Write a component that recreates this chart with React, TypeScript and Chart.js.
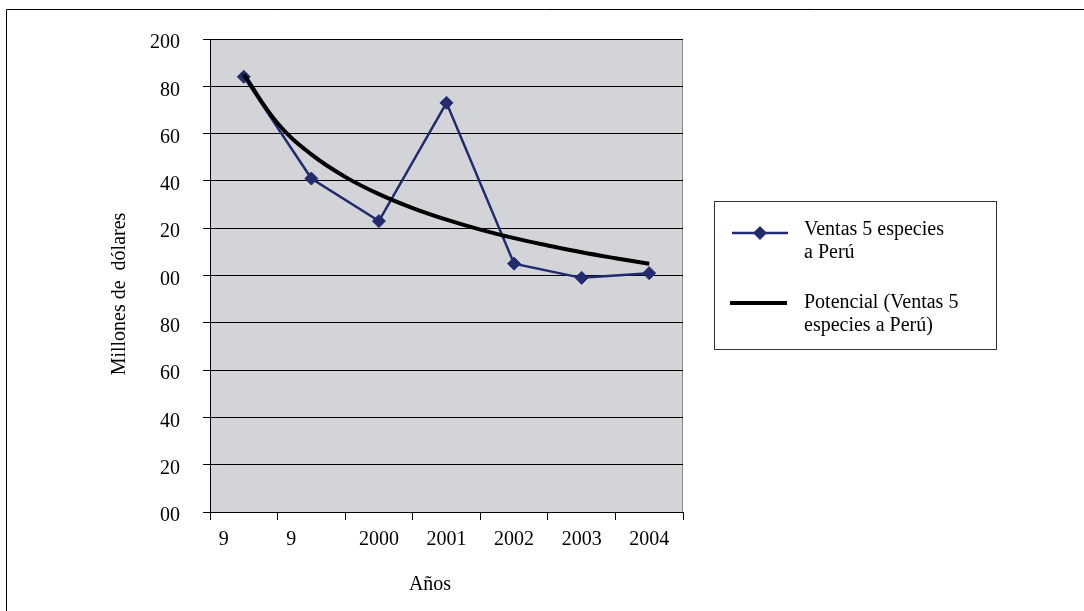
import React, { useEffect, useRef } from "react";
import { Chart, registerables } from "chart.js";

Chart.register(...registerables);

const categories = ["1998", "1999", "2000", "2001", "2002", "2003", "2004"];
const xTickLabels = ["9", "9", "2000", "2001", "2002", "2003", "2004"];
const ventas = [1.84, 1.41, 1.23, 1.73, 1.05, 0.99, 1.01];
// trend curve, every half year
const potencialYears = [1998, 1998.5, 1999, 1999.5, 2000, 2000.5, 2001, 2001.5, 2002, 2002.5, 2003, 2003.5, 2004];
const potencial = [1.85, 1.644, 1.512, 1.417, 1.344, 1.285, 1.236, 1.194, 1.158, 1.127, 1.098, 1.073, 1.05];
const yTickLabels = ["00", "20", "40", "60", "80", "00", "20", "40", "60", "80", "200"];
const yTitle = "Millones de  dólares";
const xTitle = "Años";
const legendVentas = ["Ventas 5 especies", "a Perú"];
const legendPotencial = ["Potencial (Ventas 5", "especies a Perú)"];

const FONT = '"Liberation Serif", "Times New Roman", serif';
const NAVY = "#232B6F";
const W = 1084;
const H = 611;

const decorPlugin = {
  id: "decor",
  beforeDraw(chart: any) {
    const { ctx, chartArea } = chart;
    const { left, top, right, bottom } = chartArea;
    ctx.save();
    ctx.fillStyle = "#ffffff";
    ctx.fillRect(0, 0, W, H);
    ctx.strokeStyle = "#000";
    ctx.lineWidth = 1;
    ctx.beginPath();
    ctx.moveTo(6.5, H);
    ctx.lineTo(6.5, 9.5);
    ctx.lineTo(W, 9.5);
    ctx.stroke();
    ctx.fillStyle = "#D3D4D7";
    ctx.fillRect(left, top, right - left, bottom - top);
    ctx.strokeStyle = "#8a8a8a";
    ctx.beginPath();
    ctx.moveTo(Math.round(right) - 0.5, top);
    ctx.lineTo(Math.round(right) - 0.5, bottom);
    ctx.stroke();
    ctx.restore();
  },
  afterDraw(chart: any) {
    const { ctx } = chart;
    ctx.save();
    ctx.fillStyle = "#000";
    ctx.font = `20px ${FONT}`;
    ctx.save();
    ctx.translate(120, 294);
    ctx.rotate(-Math.PI / 2);
    ctx.textAlign = "center";
    ctx.textBaseline = "middle";
    ctx.fillText(yTitle, 0, 0);
    ctx.restore();
    ctx.textAlign = "center";
    ctx.textBaseline = "middle";
    ctx.fillText(xTitle, 430, 585);

    ctx.strokeStyle = "#333";
    ctx.lineWidth = 1;
    ctx.strokeRect(714.5, 201.5, 282, 148);
    ctx.strokeStyle = NAVY;
    ctx.lineWidth = 2.5;
    ctx.beginPath();
    ctx.moveTo(732, 233);
    ctx.lineTo(788, 233);
    ctx.stroke();
    ctx.fillStyle = NAVY;
    ctx.beginPath();
    ctx.moveTo(760, 226);
    ctx.lineTo(767, 233);
    ctx.lineTo(760, 240);
    ctx.lineTo(753, 233);
    ctx.closePath();
    ctx.fill();
    ctx.strokeStyle = "#000";
    ctx.lineWidth = 4;
    ctx.beginPath();
    ctx.moveTo(730, 303);
    ctx.lineTo(787, 303);
    ctx.stroke();
    ctx.fillStyle = "#000";
    ctx.textAlign = "left";
    ctx.textBaseline = "alphabetic";
    ctx.fillText(legendVentas[0], 804, 235);
    ctx.fillText(legendVentas[1], 804, 258);
    ctx.fillText(legendPotencial[0], 804, 308);
    ctx.fillText(legendPotencial[1], 804, 331);
    ctx.restore();
  },
};

export default function App() {
  const canvasRef = useRef<HTMLCanvasElement | null>(null);

  useEffect(() => {
    const canvas = canvasRef.current;
    if (!canvas) return;
    const trendPoints = potencialYears.map((yr, i) => ({ x: yr, y: potencial[i] }));
    const chart = new Chart(canvas, {
      type: "line",
      data: {
        labels: categories,
        datasets: [
          {
            label: legendPotencial.join(" "),
            data: trendPoints,
            xAxisID: "xt",
            borderColor: "#000",
            borderWidth: 4,
            pointRadius: 0,
            tension: 0.4,
            fill: false,
            order: 0,
          },
          {
            label: legendVentas.join(" "),
            data: ventas,
            xAxisID: "x",
            borderColor: NAVY,
            backgroundColor: NAVY,
            borderWidth: 2.5,
            pointStyle: "rectRot",
            pointRadius: 6.5,
            pointBorderWidth: 1,
            pointBackgroundColor: NAVY,
            pointBorderColor: NAVY,
            tension: 0,
            fill: false,
            order: 1,
          },
        ],
      },
      options: {
        animation: false,
        responsive: false,
        devicePixelRatio: 1,
        layout: { padding: { left: 0, top: 39, right: 401, bottom: 0 } },
        plugins: {
          legend: { display: false },
          tooltip: { enabled: false },
          title: { display: false },
        },
        scales: {
          x: {
            type: "category",
            offset: true,
            afterFit: (s: any) => {
              s.height = 99;
            },
            grid: {
              display: true,
              drawOnChartArea: false,
              drawTicks: true,
              tickLength: 8,
              offset: true,
              color: "#000",
            },
            border: { display: true, color: "#000", width: 1 },
            ticks: {
              color: "#000",
              font: { family: FONT, size: 20 },
              padding: 8,
              maxRotation: 0,
              autoSkip: false,
              callback: (_v: any, i: number) =>
                i < 2 ? xTickLabels[i] + "\u00a0".repeat(8) : xTickLabels[i],
            },
          },
          xt: {
            type: "linear",
            position: "bottom",
            display: false,
            min: Number(categories[0]) - 0.5,
            max: Number(categories[categories.length - 1]) + 0.5,
          },
          y: {
            min: 0,
            max: 2,
            afterFit: (s: any) => {
              s.width = 210;
            },
            grid: {
              color: "#000",
              lineWidth: 1,
              drawTicks: true,
              tickLength: 7,
            },
            border: { display: true, color: "#000", width: 1 },
            ticks: {
              stepSize: 0.2,
              color: "#000",
              font: { family: FONT, size: 20 },
              padding: 23,
              labelOffset: 4,
              callback: (v: any) => {
                const idx = Math.round(Number(v) / 0.2);
                return yTickLabels[idx] ?? "";
              },
            },
          },
        },
      },
      plugins: [decorPlugin],
    } as any);
    return () => chart.destroy();
  }, []);

  return (
    <div style={{ position: "absolute", left: 0, top: 0, width: W, height: H, background: "#fff" }}>
      <canvas ref={canvasRef} width={W} height={H} style={{ width: W, height: H, display: "block" }} />
    </div>
  );
}
